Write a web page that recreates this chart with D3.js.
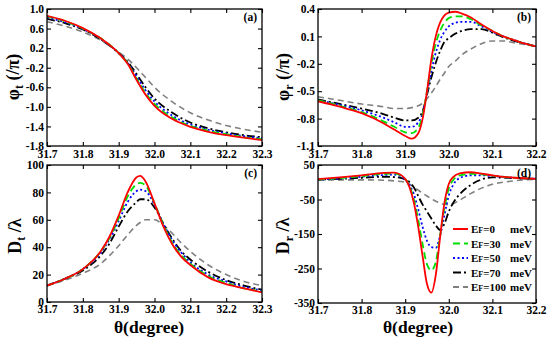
<!DOCTYPE html>
<html><head><meta charset="utf-8">
<script src="https://cdn.jsdelivr.net/npm/d3@7"></script>
<style>
body{margin:0;background:#fff}
svg{display:block}
text{font-family:"Liberation Serif","Times New Roman",serif;font-weight:bold;fill:#000}
</style>
</head><body><svg id="c" width="550" height="338"></svg>
<script>
// ---------- data ----------
const efLabels = ["0", "30", "50", "70", "100"];

// (a) transmitted phase phi_t (/pi)
const xPhiT = [31.7, 31.75, 31.8, 31.85, 31.9, 31.925, 31.95, 31.975, 32.0, 32.05, 32.1, 32.15, 32.2, 32.25, 32.3];
const phiT0   = [0.86, 0.76, 0.61, 0.40, 0.10, -0.12, -0.45, -0.75, -0.98, -1.25, -1.41, -1.51, -1.58, -1.63, -1.68];
const phiT30  = [0.85, 0.75, 0.60, 0.40, 0.10, -0.11, -0.42, -0.72, -0.94, -1.22, -1.39, -1.49, -1.56, -1.62, -1.66];
const phiT50  = [0.83, 0.73, 0.59, 0.39, 0.10, -0.10, -0.38, -0.66, -0.89, -1.18, -1.36, -1.47, -1.54, -1.60, -1.64];
const phiT70  = [0.80, 0.71, 0.58, 0.38, 0.10, -0.08, -0.33, -0.60, -0.83, -1.12, -1.32, -1.44, -1.52, -1.58, -1.62];
const phiT100 = [0.74, 0.65, 0.53, 0.36, 0.12, -0.02, -0.20, -0.40, -0.60, -0.90, -1.12, -1.27, -1.38, -1.46, -1.52];

// (b) reflected phase phi_r (/pi)
const xPhiR = [31.7, 31.75, 31.8, 31.85, 31.875, 31.9, 31.915, 31.93, 31.94, 31.95, 31.96, 31.97, 31.98, 31.99, 32.0, 32.015, 32.03, 32.05, 32.075, 32.1, 32.125, 32.15, 32.175, 32.2];
const phiR0   = [-0.61, -0.67, -0.74, -0.85, -0.92, -0.99, -1.02, -0.96, -0.80, -0.50, -0.15, 0.10, 0.25, 0.33, 0.36, 0.37, 0.35, 0.31, 0.23, 0.16, 0.10, 0.06, 0.02, -0.01];
const phiR30  = [-0.60, -0.66, -0.73, -0.83, -0.89, -0.95, -0.96, -0.90, -0.76, -0.50, -0.20, 0.02, 0.16, 0.25, 0.30, 0.32, 0.32, 0.29, 0.22, 0.16, 0.10, 0.06, 0.02, -0.01];
const phiR50  = [-0.60, -0.65, -0.71, -0.79, -0.84, -0.89, -0.89, -0.84, -0.74, -0.52, -0.28, -0.08, 0.06, 0.15, 0.21, 0.25, 0.26, 0.26, 0.21, 0.15, 0.10, 0.06, 0.02, -0.01];
const phiR70  = [-0.59, -0.64, -0.69, -0.75, -0.79, -0.82, -0.82, -0.79, -0.72, -0.54, -0.35, -0.19, -0.06, 0.04, 0.08, 0.13, 0.16, 0.18, 0.18, 0.14, 0.09, 0.05, 0.02, -0.01];
const phiR100 = [-0.56, -0.60, -0.64, -0.67, -0.69, -0.69, -0.68, -0.66, -0.63, -0.58, -0.52, -0.45, -0.37, -0.30, -0.23, -0.17, -0.10, -0.04, 0.02, 0.05, 0.05, 0.03, 0.01, -0.01];

// (c) transmitted lateral shift D_t / lambda
const xDT = [31.7, 31.75, 31.8, 31.85, 31.875, 31.9, 31.925, 31.95, 31.96, 31.975, 32.0, 32.025, 32.05, 32.075, 32.1, 32.15, 32.2, 32.25, 32.3];
const dT0   = [12, 17, 24, 37, 48, 63, 80, 91, 92, 88, 72, 55, 42, 33, 27, 18, 13, 10, 7];
const dT30  = [12, 17, 24, 37, 47, 61, 77, 86, 87, 85, 72, 56, 43, 34, 28, 19, 14, 10, 8];
const dT50  = [12, 17, 24, 36, 46, 59, 73, 81, 82, 81, 71, 57, 45, 36, 29, 20, 15, 11, 8.5];
const dT70  = [12, 17, 23, 34, 43, 55, 66, 73, 75, 75, 69, 57, 46, 37, 31, 22, 16, 12, 9];
const dT100 = [12, 16, 21, 28, 34, 41, 49, 56, 58, 60, 60, 56, 50, 43, 37, 27, 20, 15, 12];

// (d) reflected lateral shift D_r / lambda
const xDR = [31.7, 31.75, 31.8, 31.85, 31.875, 31.9, 31.91, 31.92, 31.93, 31.94, 31.95, 31.96, 31.97, 31.98, 31.99, 32.0, 32.01, 32.025, 32.05, 32.075, 32.1, 32.15, 32.2];
const dR0   = [9, 14, 20, 27, 28, 10, -15, -60, -130, -215, -295, -320, -270, -160, -60, -5, 15, 26, 29, 25, 20, 13, 10];
const dR30  = [8, 12, 18, 24, 25, 9, -12, -50, -110, -180, -238, -255, -232, -155, -75, -18, 6, 20, 24, 23, 19, 13, 10];
const dR50  = [8, 11, 16, 21, 22, 8, -8, -35, -80, -130, -170, -188, -190, -155, -95, -38, -8, 12, 20, 20, 18, 13, 10];
const dR70  = [8, 10, 13, 16, 15, 8, 0, -15, -40, -65, -85, -105, -125, -138, -120, -85, -60, -35, -8, 8, 14, 12, 10];
const dR100 = [7, 7, 7, 6, 4, 0, -6, -14, -23, -32, -40, -48, -55, -60, -64, -65, -62, -52, -33, -17, -6, 4, 9];

// ticks
const xTicksWide   = [31.7, 31.8, 31.9, 32.0, 32.1, 32.2, 32.3];
const xTicksNarrow = [31.7, 31.8, 31.9, 32.0, 32.1, 32.2];
const yTicksA = [1.0, 0.6, 0.2, -0.2, -0.6, -1.0, -1.4, -1.8];
const yTicksB = [0.4, 0.1, -0.2, -0.5, -0.8, -1.1];
const yTicksC = [0, 20, 40, 60, 80, 100];
const yTicksD = [50, -50, -150, -250, -350];

// ---------- styles ----------
const colors = ["#ff0000", "#00dd00", "#0000ff", "#000000", "#808080"];
const dashes = [null, "7,4", "2,2.5", "8,3,2,3", "6,4"];
const widths = [1.8, 1.8, 1.8, 1.8, 1.6];

const svg = d3.select("#c");

const panels = [
  {tag: "(a)", box: [47, 262, 9, 146], pad: 4, xDom: [31.7, 32.3], yDom: [-1.8, 1.0], xT: xTicksWide, yT: yTicksA,
   fmt: d => d.toFixed(1), xs: xPhiT, ys: [phiT0, phiT30, phiT50, phiT70, phiT100]},
  {tag: "(b)", box: [318, 536, 9, 146], pad: 4, xDom: [31.7, 32.2], yDom: [-1.1, 0.4], xT: xTicksNarrow, yT: yTicksB,
   fmt: d => d.toFixed(1), xs: xPhiR, ys: [phiR0, phiR30, phiR50, phiR70, phiR100]},
  {tag: "(c)", box: [47, 262, 165, 302], pad: 2.5, xDom: [31.7, 32.3], yDom: [0, 100], xT: xTicksWide, yT: yTicksC,
   fmt: d => String(d), xs: xDT, ys: [dT0, dT30, dT50, dT70, dT100]},
  {tag: "(d)", box: [318, 536, 165, 303], pad: 2.5, xDom: [31.7, 32.2], yDom: [-350, 50], xT: xTicksNarrow, yT: yTicksD,
   fmt: d => String(d), xs: xDR, ys: [dR0, dR30, dR50, dR70, dR100]}
];

panels.forEach((p, pi) => {
  const [x0, x1, y0, y1] = p.box;
  const x = d3.scaleLinear().domain(p.xDom).range([x0, x1]);
  const y = d3.scaleLinear().domain(p.yDom).range([y1, y0]);
  const cid = "clip" + pi;
  svg.append("clipPath").attr("id", cid).append("rect")
    .attr("x", x0).attr("y", y0).attr("width", x1 - x0).attr("height", y1 - y0);

  const line = d3.line().x(d => x(d[0])).y(d => y(d[1])).curve(d3.curveMonotoneX);
  const g = svg.append("g").attr("clip-path", `url(#${cid})`);
  for (let i = p.ys.length - 1; i >= 0; i--) {
    const data = p.xs.map((v, j) => [v, p.ys[i][j]]);
    g.append("path").datum(data).attr("d", line)
      .attr("fill", "none").attr("stroke", colors[i]).attr("stroke-width", widths[i])
      .attr("stroke-dasharray", dashes[i]);
  }

  const styleAxis = sel => {
    sel.select(".domain").remove();
    sel.selectAll("line").attr("stroke", "#000").attr("stroke-width", 1.1);
    sel.selectAll("text").attr("font-family", '"Liberation Serif",serif').attr("font-weight", "bold")
      .attr("font-size", 11.5).attr("fill", "#000");
  };
  svg.append("g").attr("transform", `translate(0,${y1})`)
    .call(d3.axisBottom(x).tickValues(p.xT).tickSizeInner(-4).tickSizeOuter(0).tickPadding(p.pad).tickFormat(d => d.toFixed(1)))
    .call(styleAxis);
  svg.append("g").attr("transform", `translate(0,${y0})`)
    .call(d3.axisTop(x).tickValues(p.xT).tickSizeInner(-4).tickSizeOuter(0).tickFormat(""))
    .call(styleAxis);
  svg.append("g").attr("transform", `translate(${x0},0)`)
    .call(d3.axisLeft(y).tickValues(p.yT).tickSizeInner(-4).tickSizeOuter(0).tickPadding(3).tickFormat(p.fmt))
    .call(styleAxis);
  svg.append("g").attr("transform", `translate(${x1},0)`)
    .call(d3.axisRight(y).tickValues(p.yT).tickSizeInner(-4).tickSizeOuter(0).tickFormat(""))
    .call(styleAxis);

  svg.append("rect").attr("x", x0).attr("y", y0).attr("width", x1 - x0).attr("height", y1 - y0)
    .attr("fill", "none").attr("stroke", "#000").attr("stroke-width", 1.3);

  svg.append("text").attr("x", x1 - 5).attr("y", y0 + 12).attr("text-anchor", "end")
    .attr("font-size", 11.5).text(p.tag);
});

// axis titles
function yTitle(cx, cy, main, sub, rest) {
  const t = svg.append("text").attr("transform", `translate(${cx},${cy}) rotate(-90)`)
    .attr("text-anchor", "middle").attr("font-size", 18);
  t.append("tspan").text(main);
  t.append("tspan").attr("font-size", 12).attr("dy", 4).text(sub);
  t.append("tspan").attr("dy", -4).text(rest);
}
yTitle(19, 77, "φ", "t", " (/π)");
yTitle(289, 77, "φ", "r", " (/π)");
yTitle(21, 236, "D", "t", " /λ");
yTitle(289, 236, "D", "r", " /λ");

svg.append("text").attr("x", 149).attr("y", 333).attr("text-anchor", "middle").attr("font-size", 17.5).text("θ(degree)");
svg.append("text").attr("x", 418).attr("y", 333).attr("text-anchor", "middle").attr("font-size", 17.5).text("θ(degree)");

// legend in panel (d)
const leg = svg.append("g");
efLabels.forEach((lab, i) => {
  const ly = 229 + i * 14.5;
  leg.append("line").attr("x1", 453).attr("x2", 468).attr("y1", ly).attr("y2", ly)
    .attr("stroke", colors[i]).attr("stroke-width", 2).attr("stroke-dasharray", dashes[i]);
  const t = leg.append("text").attr("x", 471).attr("y", ly + 4).attr("font-size", 11);
  t.append("tspan").text("E");
  t.append("tspan").attr("font-size", 8).text("F");
  t.append("tspan").text("=" + lab);
  leg.append("text").attr("x", 510).attr("y", ly + 4).attr("font-size", 11).text("meV");
});
</script></body></html>
